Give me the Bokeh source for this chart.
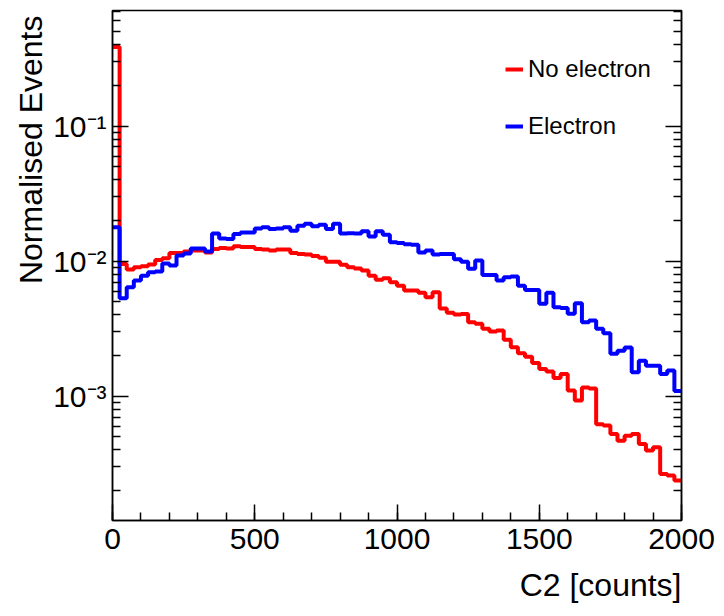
from bokeh.plotting import figure
from bokeh.models import Range1d, FixedTicker, LogAxis, Title
from bokeh.embed import file_html
from bokeh.resources import INLINE

# ---- data ----
bin_width = 25
n_bins = 80
no_electron = [
    0.384, 0.00953, 0.00865, 0.0090, 0.00915, 0.00942, 0.0102, 0.0105, 0.0115, 0.0115,
    0.01176, 0.0120, 0.0120, 0.0116, 0.0123, 0.0125, 0.0124, 0.0129, 0.0127, 0.0127,
    0.0123, 0.0122, 0.0120, 0.0122, 0.0122, 0.0115, 0.0113, 0.0112, 0.0109, 0.0106,
    0.0099, 0.0099, 0.0094, 0.0090, 0.0088, 0.0085, 0.0078, 0.00726, 0.00746, 0.00697,
    0.00658, 0.00605, 0.00605, 0.00584, 0.00539, 0.00587, 0.00445, 0.00415, 0.00402, 0.00406,
    0.00352, 0.00343, 0.00315, 0.00301, 0.00306, 0.00262, 0.0023, 0.00208, 0.00196, 0.00176,
    0.00159, 0.00152, 0.00136, 0.00146, 0.0011, 0.00093, 0.00116, 0.00114, 0.00062, 0.000605,
    0.000525, 0.000468, 0.00051, 0.000525, 0.000443, 0.000395, 0.000418, 0.000265, 0.000258, 0.000237,
]
electron = [
    0.0178, 0.0053, 0.0064, 0.00717, 0.0078, 0.00826, 0.00836, 0.0096, 0.00926, 0.0110,
    0.0114, 0.0124, 0.0124, 0.01176, 0.0160, 0.0147, 0.0146, 0.0159, 0.0163, 0.0163,
    0.0174, 0.0178, 0.0173, 0.0174, 0.0178, 0.0168, 0.0183, 0.0189, 0.0181, 0.0186,
    0.0173, 0.0189, 0.0160, 0.0161, 0.0160, 0.0166, 0.0152, 0.0166, 0.0157, 0.0138,
    0.0136, 0.0133, 0.0132, 0.0116, 0.0120, 0.0112, 0.0113, 0.0113, 0.0103, 0.0099,
    0.00876, 0.0101, 0.0079, 0.0079, 0.00717, 0.0076, 0.0077, 0.00658, 0.00612, 0.0061,
    0.00484, 0.00584, 0.00455, 0.0045, 0.00408, 0.00487, 0.00352, 0.00363, 0.00315, 0.00292,
    0.00206, 0.00217, 0.00229, 0.0015, 0.00183, 0.00168, 0.00168, 0.00146, 0.00155, 0.00109,
]
x_ticks = [0, 500, 1000, 1500, 2000]
x_minor = list(range(0, 2001, 100))
y_ticks = [1e-3, 1e-2, 1e-1]
y_tick_labels = ["10\u207b\u00b3", "10\u207b\u00b2", "10\u207b\u00b9"]
y_minor = [m * 10.0 ** e for e in (-4, -3, -2, -1) for m in range(2, 10)]
series_names = ["No electron", "Electron"]
series_colors = ["#ff0000", "#0000ff"]
x_title = "C2 [counts]"
y_title = "Normalised Events"

edges = [i * bin_width for i in range(n_bins + 1)]

FONT = "Liberation Sans"

p = figure(width=724, height=616,
           x_range=Range1d(0, 2000), y_range=Range1d(1.2e-4, 0.717),
           y_axis_type="log", output_backend="svg", toolbar_location=None,
           min_border_left=112, min_border_right=43, min_border_top=10,
           min_border_bottom=96)
p.grid.visible = False
p.outline_line_color = "black"
p.outline_line_width = 1.5
p.background_fill_color = "white"
p.border_fill_color = "white"

for name, vals, col in zip(series_names, [no_electron, electron], series_colors):
    p.step(x=edges, y=list(vals) + [vals[-1]], mode="after",
           line_color=col, line_width=4, legend_label=name)

# x axis
xa = p.xaxis[0]
xa.ticker = FixedTicker(ticks=x_ticks, minor_ticks=x_minor)
xa.major_tick_in = 16
xa.major_tick_out = 0
xa.minor_tick_in = 8
xa.minor_tick_out = 0
xa.major_tick_line_width = 1.5
xa.minor_tick_line_width = 1.5
xa.axis_line_width = 1.5
xa.major_label_text_font = FONT
xa.major_label_text_font_size = "30px"
xa.major_label_text_color = "black"
xa.major_label_standoff = 8

# y axis
ya = p.yaxis[0]
ya.ticker = FixedTicker(ticks=y_ticks, minor_ticks=y_minor)
ya.major_label_overrides = {t: l for t, l in zip(y_ticks, y_tick_labels)}
ya.major_tick_in = 16
ya.major_tick_out = 0
ya.minor_tick_in = 8
ya.minor_tick_out = 0
ya.major_tick_line_width = 1.5
ya.minor_tick_line_width = 1.5
ya.axis_line_width = 1.5
ya.major_label_text_font = FONT
ya.major_label_text_font_size = "30px"
ya.major_label_text_color = "black"
ya.major_label_standoff = 6

ra = LogAxis(ticker=FixedTicker(ticks=y_ticks, minor_ticks=y_minor))
ra.major_label_text_font_size = "2px"
ra.major_label_text_alpha = 0
ra.major_tick_in = 16
ra.major_tick_out = 0
ra.minor_tick_in = 8
ra.minor_tick_out = 0
ra.major_tick_line_width = 1.5
ra.minor_tick_line_width = 1.5
ra.axis_line_width = 1.5
p.add_layout(ra, "right")

# axis titles, ROOT style (aligned to the end of each axis)
p.add_layout(Title(text=x_title, align="right", text_font=FONT,
                   text_font_size="32px", text_font_style="normal",
                   text_color="black", standoff=27), "below")
p.add_layout(Title(text=y_title, align="right", text_font=FONT,
                   text_font_size="32px", text_font_style="normal",
                   text_color="black", standoff=4, offset=5), "left")

lg = p.legend[0]
lg.location = (393, 380)
lg.label_text_font = FONT
lg.label_text_font_size = "24px"
lg.label_text_color = "black"
lg.glyph_width = 18
lg.glyph_height = 24
lg.label_height = 24
lg.spacing = 29
lg.padding = 0
lg.margin = 0
lg.label_standoff = 5
lg.border_line_alpha = 0
lg.background_fill_alpha = 0

open("out.html", "w").write(file_html(p, INLINE))
